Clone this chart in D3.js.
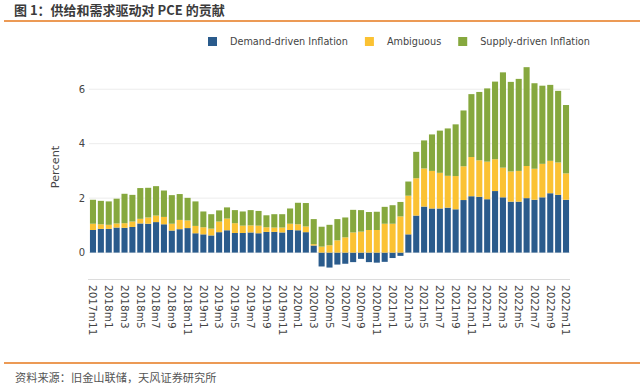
<!DOCTYPE html>
<html>
<head>
<meta charset="utf-8">
<script src="https://cdn.jsdelivr.net/npm/d3@7"></script>
<style>
  body { margin: 0; background: #fff; }
  svg { display: block; }
</style>
</head>
<body>
<div id="chart"></div>
<script>
/*
 * PCE decomposition - stacked bars, demand / ambiguous / supply
 */

// months 2017m11 .. 2022m11
var months = [];
for (var y = 2017; y <= 2022; y++) {
    for (var m = 1; m <= 12; m++) {
	if (y == 2017 && m < 11) continue;
	if (y == 2022 && m > 11) continue;
	months.push(y + "m" + m);
    }
}

var demand = [
    0.83, 0.87, 0.87, 0.92, 0.91, 0.94, 1.07, 1.06, 1.12, 1.04, 0.81, 0.86, 0.90, 0.71,
    0.67, 0.63, 0.75, 0.82, 0.72, 0.72, 0.74, 0.71, 0.76, 0.76, 0.74, 0.83,
    0.82, 0.75, 0.26, -0.51, -0.55, -0.44, -0.41, -0.35, -0.23, -0.35, -0.37, -0.34,
    -0.20, -0.12, 0.67, 1.36, 1.69, 1.62, 1.62, 1.65, 1.59, 1.93, 2.07, 2.05,
    1.96, 2.26, 2.03, 1.87, 1.87, 2.00, 1.94, 2.03, 2.18, 2.12, 1.94
];

var ambiguous = [
    0.23, 0.17, 0.15, 0.15, 0.17, 0.20, 0.17, 0.23, 0.24, 0.27, 0.25, 0.34, 0.28, 0.27,
    0.26, 0.25, 0.39, 0.43, 0.36, 0.27, 0.26, 0.28, 0.17, 0.16, 0.18, 0.23,
    0.22, 0.21, 0.05, 0.22, 0.27, 0.45, 0.56, 0.74, 0.77, 0.83, 0.83, 1.06,
    1.06, 1.33, 1.42, 1.37, 1.40, 1.38, 1.31, 1.17, 1.22, 1.24, 1.44, 1.34,
    1.38, 1.17, 1.09, 1.11, 1.13, 1.18, 1.14, 1.23, 1.19, 1.19, 0.97
];

var supply = [
    0.88, 0.86, 0.86, 0.91, 1.08, 0.98, 1.13, 1.09, 1.08, 0.97, 1.05, 0.95, 0.83, 0.90,
    0.58, 0.53, 0.41, 0.41, 0.48, 0.52, 0.56, 0.54, 0.44, 0.49, 0.49, 0.56,
    0.79, 0.86, 0.92, 0.73, 0.75, 0.78, 0.73, 0.83, 0.79, 0.66, 0.67, 0.62,
    0.68, 0.53, 0.52, 0.97, 1.03, 1.34, 1.55, 1.74, 1.90, 2.05, 2.31, 2.51,
    2.69, 2.85, 3.50, 3.29, 3.38, 3.63, 3.14, 2.87, 2.79, 2.63, 2.51
];

var seriesKeys = ["demand", "ambiguous", "supply"];
var seriesNames = ["Demand-driven Inflation", "Ambiguous", "Supply-driven Inflation"];
var seriesColors = ["#2a5b8c", "#fbc233", "#86a83e"];
var yTicks = [0, 2, 4, 6];

var W = 640, H = 390;
var font = "'DejaVu Sans', Verdana, sans-serif";
var cjk = "'Noto Sans CJK SC', sans-serif";

var margin = { left: 89, right: 70, top: 62, bottom: 111 };

var svg = d3.select("#chart").append("svg")
    .attr("width", W)
    .attr("height", H);

// header / footer (document text around the image)
svg.append("text")
    .attr("x", 14).attr("y", 15)
    .style("font-family", cjk)
    .style("font-size", "13px")
    .style("font-weight", "bold")
    .attr("fill", "#3b3b3b")
    .text("图 1：供给和需求驱动对 PCE 的贡献");

svg.append("line")
    .attr("x1", 4).attr("x2", W)
    .attr("y1", 21).attr("y2", 21)
    .attr("stroke", "#ec9a55").attr("stroke-width", 1.8);

svg.append("line")
    .attr("x1", 4).attr("x2", W)
    .attr("y1", 363).attr("y2", 363)
    .attr("stroke", "#ec9a55").attr("stroke-width", 1.8);

svg.append("text")
    .attr("x", 15).attr("y", 382)
    .style("font-family", cjk)
    .style("font-size", "11.2px")
    .attr("fill", "#555")
    .text("资料来源：旧金山联储，天风证券研究所");

// data rows for the stack
var rows = months.map(function(d, i){
    return { month: d, demand: demand[i], ambiguous: ambiguous[i], supply: supply[i] };
});

var stacked = d3.stack()
    .keys(seriesKeys)
    .offset(d3.stackOffsetDiverging)(rows);

var x = d3.scaleBand()
    .domain(months)
    .range([margin.left, W - margin.right])
    .paddingInner(0.23)
    .paddingOuter(0.12);

var yScale = d3.scaleLinear()
    .domain([-0.97, 7.0])
    .range([H - margin.bottom, margin.top]);

// gridlines
svg.append("g").selectAll("line")
    .data(yTicks)
    .enter().append("line")
    .attr("x1", margin.left).attr("x2", W - margin.right)
    .attr("y1", function(d){ return yScale(d); })
    .attr("y2", function(d){ return yScale(d); })
    .attr("stroke", "#ececec").attr("stroke-width", 1);

// bars
var layers = svg.append("g").selectAll("g")
    .data(stacked)
    .enter().append("g")
    .attr("fill", function(d, i){ return seriesColors[i]; });

layers.selectAll("rect")
    .data(function(d){ return d; })
    .enter().append("rect")
    .attr("x", function(d){ return x(d.data.month); })
    .attr("width", x.bandwidth())
    .attr("y", function(d){ return yScale(Math.max(d[0], d[1])); })
    .attr("height", function(d){ return Math.abs(yScale(d[0]) - yScale(d[1])); });

// bottom axis line
svg.append("line")
    .attr("x1", margin.left - 1).attr("x2", W - margin.right)
    .attr("y1", H - margin.bottom + 0.5).attr("y2", H - margin.bottom + 0.5)
    .attr("stroke", "#dcdcdc").attr("stroke-width", 1);

// x axis, every second month, rotated
var xAxis = d3.axisBottom(x)
    .tickValues(months.filter(function(d, i){ return i % 2 == 0; }))
    .tickSize(0)
    .tickPadding(0);

var gx = svg.append("g")
    .attr("transform", "translate(0," + (H - margin.bottom) + ")")
    .call(xAxis);
gx.select(".domain").remove();
gx.selectAll("text")
    .attr("transform", "rotate(90)")
    .attr("x", 6)
    .attr("y", 0)
    .attr("dy", "0.35em")
    .style("text-anchor", "start")
    .style("font-family", font)
    .style("font-size", "10.5px")
    .attr("fill", "#444");

// y axis
var yAxis = d3.axisLeft(yScale)
    .tickValues(yTicks)
    .tickSize(0)
    .tickPadding(4);

var gy = svg.append("g")
    .attr("transform", "translate(" + margin.left + ",0)")
    .call(yAxis);
gy.select(".domain").remove();
gy.selectAll("text")
    .style("font-family", font)
    .style("font-size", "10px")
    .attr("fill", "#444");

svg.append("text")
    .attr("transform", "translate(59," + 167 + ") rotate(-90)")
    .style("text-anchor", "middle")
    .style("font-family", font)
    .style("font-size", "11.3px")
    .attr("fill", "#444")
    .text("Percent");

// legend
var legend = svg.append("g").attr("transform", "translate(208,37)");
var lx = 0;
seriesNames.forEach(function(name, i){
    var g = legend.append("g").attr("transform", "translate(" + lx + ",0)");
    g.append("rect")
	.attr("width", 9).attr("height", 9)
	.attr("fill", seriesColors[i]);
    var t = g.append("text")
	.attr("x", 22).attr("y", 8)
	.style("font-family", font)
	.style("font-size", "9.7px")
	.attr("fill", "#444")
	.text(name);
    lx += 22 + t.node().getComputedTextLength() + 17;
});
</script>
</body>
</html>
